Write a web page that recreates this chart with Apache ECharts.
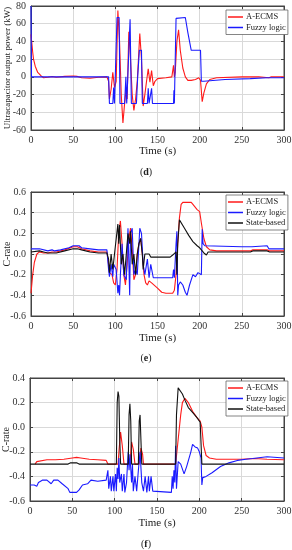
<!DOCTYPE html>
<html><head><meta charset="utf-8">
<script src="https://cdn.jsdelivr.net/npm/echarts@6/dist/echarts.min.js"></script>
<style>html,body{margin:0;padding:0;background:#fff}#c{width:292px;height:550px}</style>
</head><body><div id="c"></div>
<script>
// ---- data: [time (s), value] ----
const dEcms = [[0,48],[1,38],[2,28],[3,20],[5,12],[8,5],[12,1],[15,-1],[20,-0.5],[25,0.5],[30,-0.5],[40,0.5],[50,1],[55,0.5],[60,-1],[70,-1.5],[80,-0.5],[90,0],[92,-5],[93,-25],[95,-14],[97,5],[99,-12],[101,-5],[103,75],[105,40],[107,-20],[109,-52],[111,-30],[113,-12],[114,-25],[116,51],[118,20],[120,-20],[122,-38],[124,-25],[126,-5],[129,49],[131,20],[133,-33],[135,-20],[137,-5],[139,9],[141,-6],[143,7],[145,-10],[147,-5],[150,-2],[160,-1],[167,0],[169,13],[170,0],[171,5],[173,40],[175,53],[177,30],[180,10],[183,0],[186,-4],[190,-4],[195,-3],[199,-1],[201,-4],[203,-28],[205,-18],[208,-8],[212,-3],[220,-1],[250,0],[263,0],[265,1],[270,0],[282,-1],[285,0],[300,0]];
const dFuzzy = [[0,80],[0.6,0],[92,0],[93,-30],[97,-30],[98,-12],[99,-30],[101,-30],[102,67],[104.5,67],[105.5,-30],[111,-30],[112.5,0],[113.5,-30],[114.5,-30],[117.5,65],[119,-30],[125,-30],[126.5,0],[128.5,30],[131,30],[132,-30],[138,-30],[139,-13],[140,-30],[142,-30],[143,-13],[144,-30],[169,-30],[169.5,-15],[170,-30],[171,-30],[172,66],[183,67],[186,50],[190,30],[201,30],[202,-5],[205,-5],[230,-3],[260,-2],[280,-1],[300,-1]];
const eEcms = [[0,-0.38],[2,-0.2],[4,-0.08],[7,0],[10,0.02],[15,0.01],[20,0.01],[25,0.02],[30,0.02],[40,0.04],[50,0.07],[55,0.07],[60,0.05],[70,0.03],[80,0.02],[90,0.02],[92,-0.1],[93,-0.18],[96,-0.2],[98,-0.28],[100,-0.3],[102,-0.15],[104,0.2],[106,0.32],[108,0.1],[110,-0.2],[112,-0.3],[114,-0.1],[116,0.15],[118,0.25],[120,0.05],[122,-0.25],[124,-0.2],[126,0],[128,0.1],[130,0.15],[132,0],[134,-0.2],[136,-0.28],[138,-0.3],[140,-0.26],[143,-0.28],[145,-0.28],[150,-0.33],[155,-0.37],[160,-0.38],[168,-0.38],[170,-0.35],[172,-0.2],[174,0.1],[176,0.35],[178,0.48],[180,0.5],[190,0.5],[192,0.48],[197,0.43],[200,0.41],[202,0.3],[205,0.15],[208,0.07],[212,0.04],[220,0.03],[260,0.03],[263,0.04],[280,0.04],[283,0.03],[300,0.03]];
const eFuzzy = [[0,0.05],[10,0.05],[12,0.04],[20,0.03],[25,0.04],[28,0.03],[35,0.04],[45,0.06],[50,0.08],[57,0.08],[60,0.06],[70,0.05],[80,0.04],[90,0.04],[92,-0.15],[93,-0.22],[95,-0.1],[97,-0.22],[98,-0.1],[101,-0.15],[103,-0.38],[104,-0.3],[105,-0.4],[106,-0.2],[108,0.1],[110,-0.2],[113,-0.25],[115,0.25],[117,-0.4],[118,0.2],[120,0.25],[122,-0.2],[124,-0.15],[126,-0.2],[129,0.25],[131,0.2],[133,-0.1],[135,-0.2],[138,-0.05],[140,-0.23],[142,-0.1],[144,-0.1],[145,-0.23],[168,-0.23],[169,-0.15],[170,-0.23],[172,0.1],[173,0.22],[174,-0.4],[175,-0.3],[177,-0.27],[180,-0.3],[183,-0.37],[185,-0.4],[188,-0.3],[192,-0.2],[195,-0.22],[198,-0.18],[200,-0.18],[202,-0.2],[203,0.24],[204,0.1],[206,0.08],[250,0.07],[262,0.07],[264,0.08],[280,0.08],[282,0.05],[300,0.05]];
const eState = [[0,0.02],[10,0.03],[15,0.02],[20,0.01],[30,0.01],[40,0.03],[50,0.05],[55,0.05],[60,0.04],[70,0.02],[80,0.01],[90,0.01],[92,-0.05],[93,-0.18],[95,0],[97,-0.15],[99,0],[101,0],[103,0.29],[104,0.1],[105,0.28],[107,-0.1],[109,0],[111,-0.2],[113,0],[115,0.2],[117,0.1],[118,0.22],[120,-0.1],[122,0],[124,-0.2],[126,0],[128,0.1],[130,0.15],[132,0],[133,-0.15],[135,0],[140,0],[142,-0.03],[145,-0.03],[165,-0.03],[168,-0.01],[170,0],[172,0.02],[173,-0.2],[174,0.1],[176,0.33],[178,0.32],[182,0.25],[187,0.18],[192,0.12],[197,0.08],[200,0.06],[202,0.04],[205,0.01],[208,-0.01],[210,0.02],[220,0.02],[260,0.02],[263,0.03],[280,0.03],[283,0.02],[300,0.02]];
const fEcms = [[6,-0.3],[8,-0.28],[10,-0.27],[20,-0.265],[30,-0.265],[40,-0.26],[50,-0.25],[55,-0.245],[60,-0.25],[70,-0.26],[80,-0.265],[90,-0.27],[92,-0.3],[104,-0.3],[105,-0.2],[107,-0.04],[109,-0.15],[111,-0.3],[118,-0.3],[120,-0.12],[122,-0.18],[124,-0.3],[129,-0.3],[131,-0.17],[133,-0.22],[134,-0.3],[172,-0.3],[175,-0.1],[178,0.1],[180,0.2],[183,0.235],[187,0.2],[192,0.13],[197,0.08],[201,0.05],[203,0],[205,-0.15],[208,-0.23],[212,-0.25],[220,-0.26],[250,-0.26],[265,-0.255],[280,-0.26],[300,-0.265]];
const fFuzzy = [[0,-0.47],[5,-0.47],[8,-0.48],[10,-0.45],[15,-0.43],[20,-0.43],[25,-0.46],[28,-0.43],[33,-0.43],[38,-0.46],[45,-0.5],[47,-0.53],[55,-0.53],[58,-0.51],[62,-0.47],[68,-0.46],[72,-0.43],[80,-0.44],[90,-0.43],[92,-0.35],[93,-0.5],[95,-0.4],[96,-0.52],[98,-0.4],[99,-0.52],[101,-0.38],[102,-0.52],[103,-0.33],[104,-0.42],[105,-0.25],[106,-0.45],[108,-0.38],[109,-0.52],[111,-0.38],[112,-0.53],[114,-0.45],[116,-0.2],[117,-0.35],[118,-0.22],[120,-0.45],[121,-0.3],[122,-0.52],[124,-0.4],[126,-0.52],[128,-0.35],[130,-0.2],[132,-0.45],[134,-0.52],[136,-0.4],[138,-0.53],[140,-0.4],[141,-0.52],[143,-0.4],[145,-0.52],[146,-0.53],[167,-0.53],[168,-0.4],[169,-0.5],[170,-0.35],[171,-0.45],[172,-0.15],[173,-0.5],[175,-0.28],[178,-0.3],[182,-0.38],[185,-0.32],[190,-0.2],[192,-0.14],[195,-0.16],[198,-0.17],[200,-0.2],[202,-0.25],[203,-0.47],[204,-0.41],[208,-0.4],[215,-0.37],[225,-0.32],[235,-0.29],[245,-0.27],[255,-0.26],[263,-0.255],[265,-0.24],[280,-0.24],[282,-0.25],[300,-0.25]];
const fState = [[0,-0.3],[45,-0.3],[48,-0.29],[55,-0.29],[58,-0.3],[102,-0.3],[103,0.2],[104,0.29],[105,0.25],[106,-0.1],[107,-0.3],[116,-0.3],[117,0.1],[118,0.19],[119,0.05],[120,-0.3],[128,-0.3],[129,0.05],[130,0.1],[131,-0.1],[132,-0.3],[172,-0.3],[173,0.1],[175,0.32],[177,0.32],[180,0.27],[183,0.22],[187,0.16],[192,0.12],[197,0.08],[201,0.04],[202.5,0.03],[203,-0.3],[300,-0.3]];
const names = ['A-ECMS','Fuzzy logic','State-based'];
const colors = ['#ff1a1a','#1a1aff','#111111'];
const xTicks = {min:0,max:300,interval:50};
const panels = [
  {yName:'Ultracapacitor output power (kW)', yNameSize:9, ymin:-60, ymax:80, yint:20, dec:0, top:6, bottom:130, left:31, series:[dEcms,dFuzzy], label:'d', labelY:173, xNameGap:16, legendTop:10},
  {yName:'C-rate', yNameSize:10, ymin:-0.6, ymax:0.6, yint:0.2, dec:1, top:192, bottom:316, left:31, series:[eEcms,eFuzzy,eState], label:'e', labelY:359, xNameGap:17, legendTop:195},
  {yName:'C-rate', yNameSize:10, ymin:-0.6, ymax:0.4, yint:0.2, dec:1, top:378, bottom:501, left:30, series:[fEcms,fFuzzy,fState], label:'f', labelY:545, xNameGap:17, legendTop:381}
];
const FONT = '"Liberation Serif", "DejaVu Serif", serif';
const grid=[], xAxis=[], yAxis=[], series=[], legend=[], graphic=[];
panels.forEach((p,i)=>{
  grid.push({left:p.left, right:8, top:p.top, height:p.bottom-p.top, show:true, borderColor:'#444', borderWidth:1, containLabel:false, outerBoundsMode:'none'});
  const axLine = {show:true, onZero:false, lineStyle:{color:'#444',width:1}};
  xAxis.push({type:'value', gridIndex:i, min:xTicks.min, max:xTicks.max, interval:xTicks.interval,
    name:'Time (s)', nameLocation:'middle', nameGap:p.xNameGap, nameMoveOverlap:false, nameTextStyle:{fontFamily:FONT,fontSize:11,color:'#222'},
    axisLine:axLine, axisTick:{inside:true,length:3,lineStyle:{color:'#444'}},
    axisLabel:{fontFamily:FONT,fontSize:10,color:'#333',margin:5},
    splitLine:{show:true,lineStyle:{color:'#d9d9d9',width:1}}});
  xAxis.push({type:'value', gridIndex:i, position:'top', min:xTicks.min, max:xTicks.max, interval:xTicks.interval,
    axisLine:axLine, axisTick:{inside:true,length:3,lineStyle:{color:'#444'}}, axisLabel:{show:false}, splitLine:{show:false}});
  yAxis.push({type:'value', gridIndex:i, min:p.ymin, max:p.ymax, interval:p.yint,
    name:p.yName, nameLocation:'middle', nameGap:19, nameMoveOverlap:false, nameTextStyle:{fontFamily:FONT,fontSize:p.yNameSize,color:'#222'},
    axisLine:axLine, axisTick:{inside:true,length:3,lineStyle:{color:'#444'}},
    axisLabel:{fontFamily:FONT,fontSize:10,color:'#333',margin:5,formatter:v=>v.toFixed(p.dec)},
    splitLine:{show:true,lineStyle:{color:'#d9d9d9',width:1}}});
  yAxis.push({type:'value', gridIndex:i, position:'right', min:p.ymin, max:p.ymax, interval:p.yint,
    axisLine:axLine, axisTick:{inside:true,length:3,lineStyle:{color:'#444'}}, axisLabel:{show:false}, splitLine:{show:false}});
  const legNames=[];
  p.series.forEach((d,k)=>{
    series.push({type:'line', name:names[k], xAxisIndex:2*i, yAxisIndex:2*i, data:d, showSymbol:false, symbol:'none',
      lineStyle:{color:colors[k], width:1.1}, itemStyle:{color:colors[k]}, animation:false});
    legNames.push(names[k]);
  });
  legend.push({orient:'vertical', left:226, top:p.legendTop, data:legNames, icon:'rect', itemWidth:15, itemHeight:1.5,
    itemGap:0.5, padding:[2,2,2,2], borderColor:'#666', borderWidth:0.8, backgroundColor:'#fff',
    textStyle:{fontFamily:FONT,fontSize:8.5,color:'#222',lineHeight:10,padding:[0,0,0,-2]}, selectedMode:false});
  graphic.push({type:'text', left:'center', top:p.labelY-6, style:{rich:{a:{fontFamily:FONT,fontSize:10,fill:'#222'},b:{fontFamily:FONT,fontSize:10,fontWeight:'bold',fill:'#222'}},
    text:'{a|(}{b|'+p.label+'}{a|)}'}});
});
const chart = echarts.init(document.getElementById('c'), null, {renderer:'canvas'});
chart.setOption({animation:false, backgroundColor:'#fff', grid, xAxis, yAxis, series, legend, graphic});
</script></body></html>
